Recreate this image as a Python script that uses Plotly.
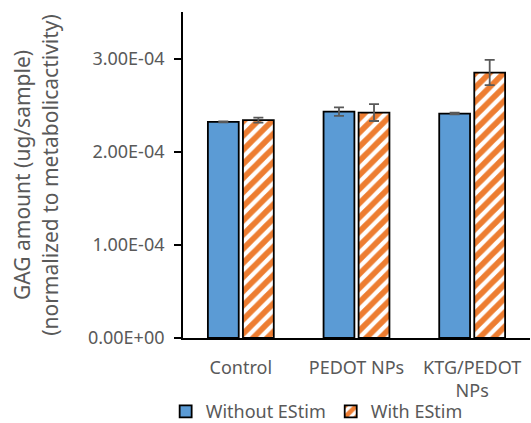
import plotly.graph_objects as go

categories = ["Control", "PEDOT NPs", "KTG/PEDOT<br>NPs"]
without_estim = [2.32e-4, 2.43e-4, 2.41e-4]
without_err = [0.6e-6, 4.5e-6, 1.0e-6]
with_estim = [2.34e-4, 2.42e-4, 2.85e-4]
with_err = [2.7e-6, 9.0e-6, 1.35e-5]
y_ticks = [0, 1e-4, 2e-4, 3e-4]
y_tick_labels = ["0.00E+00", "1.00E-04", "2.00E-04", "3.00E-04"]

FONT = "Noto Sans"
GRAY = "#595959"

fig = go.Figure()
fig.add_trace(go.Bar(
    name="Without EStim", x=categories, y=without_estim,
    marker=dict(color="#5B9BD5", line=dict(color="black", width=1.8)),
    error_y=dict(type="data", array=without_err, color=GRAY, thickness=1.8, width=5),
))
fig.add_trace(go.Bar(
    name="With EStim", x=categories, y=with_estim,
    marker=dict(color="white", line=dict(color="black", width=1.8),
                pattern=dict(shape="/", fgcolor="#ED7D31", bgcolor="white",
                             fgopacity=1, size=10, solidity=0.58)),
    error_y=dict(type="data", array=with_err, color=GRAY, thickness=1.8, width=5),
))

fig.update_layout(
    width=531, height=423,
    margin=dict(l=183, r=1, t=12, b=85, autoexpand=False),
    paper_bgcolor="white", plot_bgcolor="white",
    barmode="group", bargap=0.394, bargroupgap=0.12,
    font=dict(family=FONT, size=18, color=GRAY),
    showlegend=True,
    legend=dict(orientation="h", x=-0.05, xanchor="left", y=-0.226, yanchor="middle",
                font=dict(family=FONT, size=18, color=GRAY),
                itemwidth=30, traceorder="normal", bgcolor="rgba(0,0,0,0)"),
    xaxis=dict(showline=True, linecolor="black", linewidth=1.8, ticks="",
               showgrid=False, ticklabelstandoff=12,
               tickfont=dict(family=FONT, size=18, color=GRAY)),
    yaxis=dict(range=[0, 3.5e-4], tickvals=y_ticks, ticktext=y_tick_labels,
               showline=True, linecolor="black", linewidth=1.8,
               ticks="outside", ticklen=7, tickwidth=1.8, tickcolor="black",
               showgrid=False, zeroline=False, ticklabelstandoff=6,
               tickfont=dict(family=FONT, size=18, color=GRAY),
               title=dict(text="GAG amount (ug/sample)<br>(normalized to metabolicactivity)",
                          font=dict(family=FONT, size=21, color=GRAY), standoff=24)),
    yaxis2=dict(range=[0, 3.5e-4], tickvals=y_ticks, overlaying="y", side="left",
                anchor="x", showline=False, showticklabels=False,
                ticks="inside", ticklen=6, tickwidth=1.8, tickcolor="black",
                showgrid=False, zeroline=False),
)

fig.write_html("out.html", config={"displayModeBar": False},
               post_script="document.body.style.margin='0';document.body.style.overflow='hidden';")
